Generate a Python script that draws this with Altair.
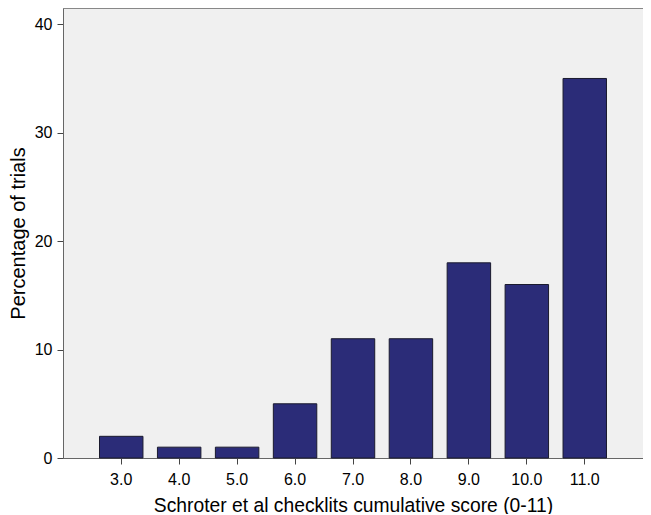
import altair as alt
import pandas as pd

scores = ["3.0", "4.0", "5.0", "6.0", "7.0", "8.0", "9.0", "10.0", "11.0"]
percent = [2, 1, 1, 5, 11, 11, 18, 16, 35]

df = pd.DataFrame({"score": scores, "pct": percent})

FONT = "Liberation Sans"

chart = alt.Chart(df).mark_bar(
    color="#2b2c78", stroke="#1a1a2e", strokeWidth=1
).encode(
    x=alt.X("score:N", sort=scores,
            scale=alt.Scale(paddingInner=0.25, paddingOuter=0.63),
            axis=alt.Axis(title="Schroter et al checklits cumulative score (0-11)",
                          labelAngle=0, labelFontSize=16, titleFontSize=19.3,
                          labelPadding=7, titlePadding=9, tickSize=6,
                          labelColor="black", titleColor="black",
                          titleFontWeight="normal",
                          domainColor="#666666", tickColor="#444444",
                          labelFont=FONT, titleFont=FONT)),
    y=alt.Y("pct:Q",
            scale=alt.Scale(domain=[0, 41.5], nice=False),
            axis=alt.Axis(title="Percentage of trials", values=[0, 10, 20, 30, 40],
                          grid=False, labelFontSize=16, titleFontSize=20,
                          labelPadding=5, titlePadding=6, tickSize=6,
                          labelColor="black", titleColor="black",
                          titleFontWeight="normal",
                          domainColor="#666666", tickColor="#444444",
                          labelFont=FONT, titleFont=FONT)),
).properties(
    width=580, height=450,
    autosize="none",
    padding={"left": 55, "top": 0, "right": 0, "bottom": 56},
    background="white",
).configure_view(
    fill="#f0f0f0", stroke="#888888", strokeWidth=1
)

chart.save("out.html", embed_options={"renderer": "svg", "actions": False})
